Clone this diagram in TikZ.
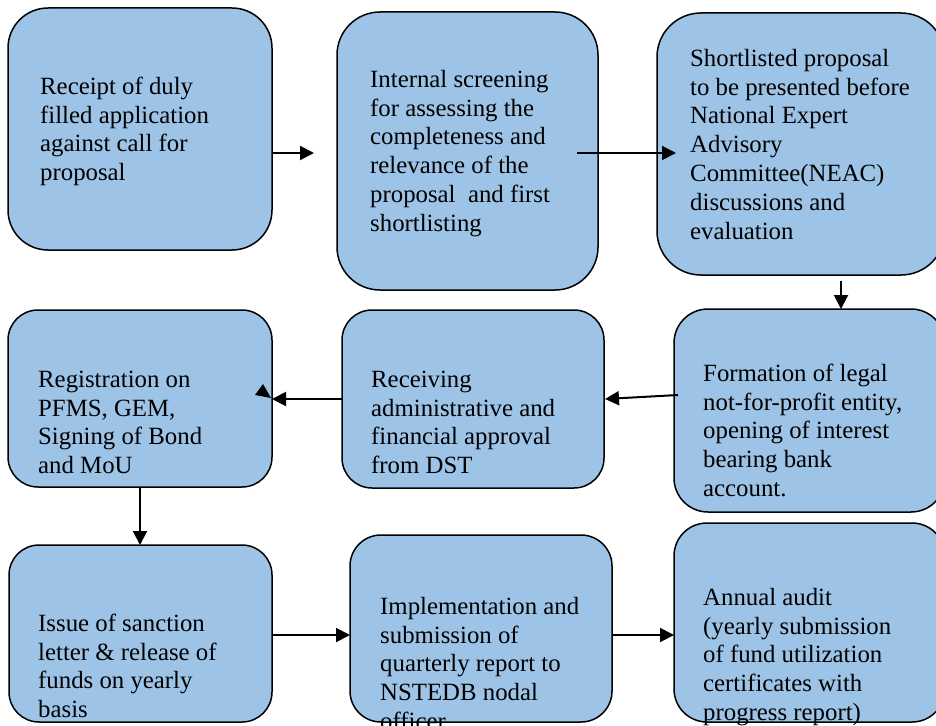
\documentclass[tikz,border=0pt]{standalone}
\usepackage{fontspec}
\setmainfont{Liberation Serif}
\usetikzlibrary{arrows.meta}
\definecolor{boxblue}{RGB}{157,195,230}
\begin{document}
\begin{tikzpicture}[x=1pt,y=-1pt,
  stepbox/.style={draw=black, line width=1.5pt, fill=boxblue, inner sep=0pt, outer sep=0pt},
  txt/.style={anchor=north west, inner sep=0pt, align=left, font=\fontsize{24.8}{28.8}\selectfont},
  conn/.style={line width=2pt, -{Triangle[length=14pt,width=14pt]}}]
\useasboundingbox (0,0) rectangle (936,725);
\clip (0,0) rectangle (936,725);
% boxes
\node[stepbox, rounded corners=40pt, minimum width=264pt, minimum height=242pt] (b1) at (140,129) {};
\node[stepbox, rounded corners=43pt, minimum width=261pt, minimum height=278pt] (b2) at (467.5,151) {};
\node[stepbox, rounded corners=44pt, minimum width=288pt, minimum height=262pt] (b3) at (801,144) {};
\node[stepbox, rounded corners=30pt, minimum width=264pt, minimum height=177pt] (b4) at (140,398.5) {};
\node[stepbox, rounded corners=30pt, minimum width=262pt, minimum height=178pt] (b5) at (473,399) {};
\node[stepbox, rounded corners=34pt, minimum width=271pt, minimum height=203pt] (b6) at (809.5,410.5) {};
\node[stepbox, rounded corners=30pt, minimum width=263pt, minimum height=177pt] (b7) at (140.5,633.5) {};
\node[stepbox, rounded corners=31pt, minimum width=262pt, minimum height=187pt] (b8) at (481,628.5) {};
\node[stepbox, rounded corners=33pt, minimum width=271pt, minimum height=199pt] (b9) at (809.5,622.5) {};
% texts
\node[txt] (t1) at (40,74) {\rule{0pt}{20pt}Receipt of duly\\filled application\\against call for\\proposal};
\node[txt] (t2) at (370,67) {\rule{0pt}{20pt}Internal screening\\for assessing the\\completeness and\\relevance of the\\proposal\ \ and first\\shortlisting};
\node[txt] (t3) at (690,46) {\rule{0pt}{20pt}Shortlisted proposal\\to be presented before\\National Expert\\Advisory\\Committee(NEAC)\\discussions and\\evaluation};
\node[txt] (t4) at (38,367) {\rule{0pt}{20pt}Registration on\\PFMS, GEM,\\Signing of Bond\\and MoU};
\node[txt] (t5) at (371,367) {\rule{0pt}{20pt}Receiving\\administrative and\\financial approval\\from DST};
\node[txt] (t6) at (703,361) {\rule{0pt}{20pt}Formation of legal\\not-for-profit entity,\\opening of interest\\bearing bank\\account.};
\node[txt] (t7) at (38,611) {\rule{0pt}{20pt}Issue of sanction\\letter \& release of\\funds on yearly\\basis};
\node[txt] (t8) at (380,594) {\rule{0pt}{20pt}Implementation and\\submission of\\quarterly report to\\NSTEDB nodal\\officer};
\node[txt] (t9) at (703,585) {\rule{0pt}{20pt}Annual audit\\(yearly submission\\of fund utilization\\certificates with\\progress report)};
% connectors
\coordinate (a1e) at (314,153);
\draw[conn] (b1.east |- a1e) -- (a1e);
\coordinate (a2s) at (577,153);
\coordinate (a2e) at (676,153);
\draw[conn] (a2s) -- (a2e);
\coordinate (a3s) at (841,281);
\draw[conn] (a3s) -- (a3s |- b6.north);
\coordinate (a4) at (0,399);
\draw[conn] (b5.west |- a4) -- (b4.east |- a4);
\fill (263,384) -- (255,395) -- (271,398) -- cycle;
\coordinate (a5s) at (678,395);
\coordinate (a5e) at (605,399);
\draw[conn] (a5s) -- (a5e);
\draw[conn] (b4.south) -- (b4.south |- b7.north);
\coordinate (a7) at (0,635);
\draw[conn] (b7.east |- a7) -- (b8.west |- a7);
\draw[conn] (b8.east |- a7) -- (b9.west |- a7);
\end{tikzpicture}
\end{document}
